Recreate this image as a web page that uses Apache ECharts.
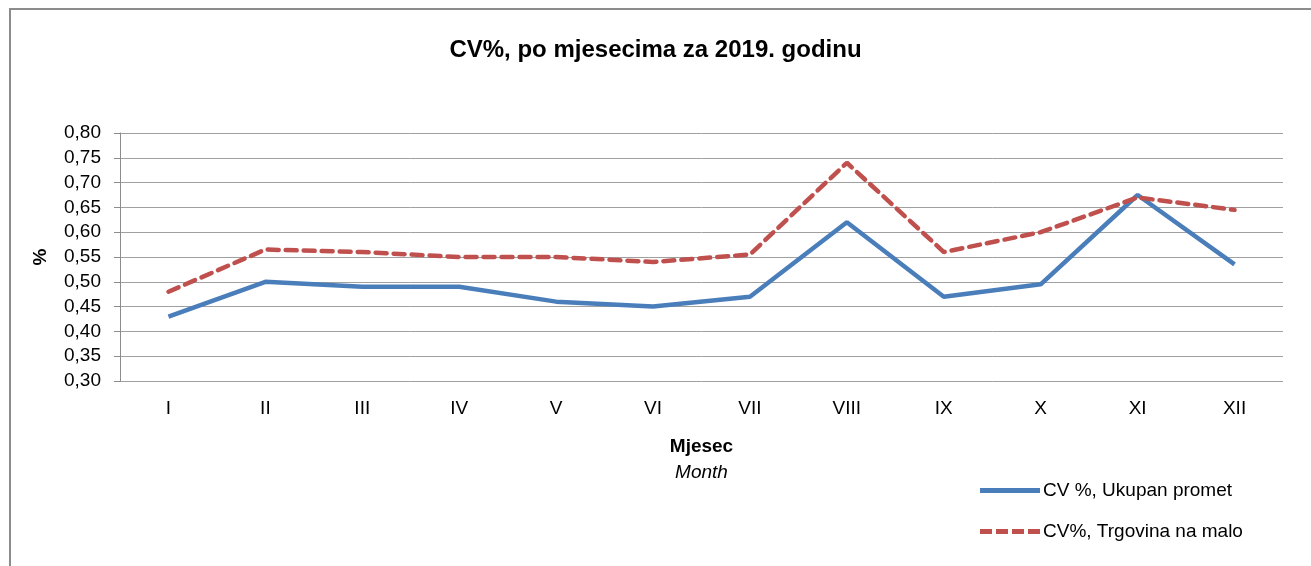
<!DOCTYPE html>
<html>
<head>
<meta charset="utf-8">
<script src="https://cdn.jsdelivr.net/npm/echarts@6/dist/echarts.min.js"></script>
<style>
html,body{margin:0;padding:0;background:#fff;}
#chart{width:1311px;height:566px;}
</style>
</head>
<body>
<div id="chart"></div>
<script>
const months = ['I','II','III','IV','V','VI','VII','VIII','IX','X','XI','XII'];
const ukupanPromet = [0.43, 0.50, 0.49, 0.49, 0.46, 0.45, 0.47, 0.62, 0.47, 0.495, 0.675, 0.535];
const trgovinaNaMalo = [0.48, 0.565, 0.56, 0.55, 0.55, 0.54, 0.555, 0.74, 0.56, 0.60, 0.67, 0.645];
const seriesNames = ['CV %, Ukupan promet', 'CV%, Trgovina na malo'];

const FONT = "'Liberation Sans Narrow', 'Arial Narrow', 'Liberation Sans', Arial, sans-serif";
const chart = echarts.init(document.getElementById('chart'), null, {renderer: 'canvas'});
chart.setOption({
  backgroundColor: '#fff',
  animation: false,
  textStyle: {fontFamily: FONT, color: '#000'},
  graphic: [{
    type: 'polyline',
    silent: true,
    shape: {points: [[10, 566], [10, 9], [1311, 9]]},
    style: {stroke: '#8c8c8c', lineWidth: 2, fill: null}
  }],
  title: {
    text: 'CV%, po mjesecima za 2019. godinu',
    left: 'center',
    top: 33,
    textStyle: {fontFamily: FONT, fontSize: 24, fontWeight: 'bold', color: '#000'}
  },
  grid: {left: 120, right: 28, top: 133, bottom: 185, containLabel: false},
  legend: {
    orient: 'vertical',
    left: 975,
    top: 476,
    itemWidth: 60,
    itemHeight: 5,
    itemGap: 22,
    textStyle: {fontFamily: FONT, fontSize: 19, color: '#000', padding: [0,0,0,-2]},
    data: [
      {name: seriesNames[0], icon: 'path://M0,0h60v5h-60z', itemStyle: {color: '#4a7ebb'}},
      {name: seriesNames[1], icon: 'path://M0,0h12v5h-12z M16,0h12v5h-12z M32,0h12v5h-12z M48,0h12v5h-12z', itemStyle: {color: '#c0504d'}}
    ]
  },
  xAxis: {
    type: 'category',
    data: months,
    boundaryGap: true,
    axisLine: {show: false},
    axisTick: {show: false},
    axisLabel: {fontFamily: FONT, fontSize: 19, color: '#000', margin: 18},
    name: '{a|Mjesec}\n{b|Month}',
    nameLocation: 'middle',
    nameGap: 53,
    nameTextStyle: {
      rich: {
        a: {fontFamily: FONT, fontSize: 19, fontWeight: 'bold', color: '#000', lineHeight: 26},
        b: {fontFamily: FONT, fontSize: 19, fontStyle: 'italic', color: '#000', lineHeight: 26}
      }
    }
  },
  yAxis: {
    type: 'value',
    min: 0.30,
    max: 0.80,
    interval: 0.05,
    axisLine: {show: true, lineStyle: {color: '#8c8c8c', width: 1}},
    axisTick: {show: true, length: 6, lineStyle: {color: '#8c8c8c'}},
    splitLine: {show: true, lineStyle: {color: '#a0a0a0', width: 1}},
    axisLabel: {
      fontFamily: FONT, fontSize: 19, color: '#000', margin: 19,
      formatter: v => v.toFixed(2).replace('.', ',')
    },
    name: '%',
    nameLocation: 'middle',
    nameGap: 70,
    nameRotate: 90,
    nameTextStyle: {fontFamily: FONT, fontSize: 19, fontWeight: 'bold', color: '#000'}
  },
  series: [
    {
      name: seriesNames[0],
      type: 'line',
      data: ukupanPromet,
      symbol: 'none',
      lineStyle: {color: '#4a7ebb', width: 4.5},
      itemStyle: {color: '#4a7ebb'}
    },
    {
      name: seriesNames[1],
      type: 'line',
      data: trgovinaNaMalo,
      symbol: 'none',
      lineStyle: {color: '#c0504d', width: 4.5, type: [11, 7], cap: 'round'},
      itemStyle: {color: '#c0504d'}
    }
  ]
});
</script>
</body>
</html>
